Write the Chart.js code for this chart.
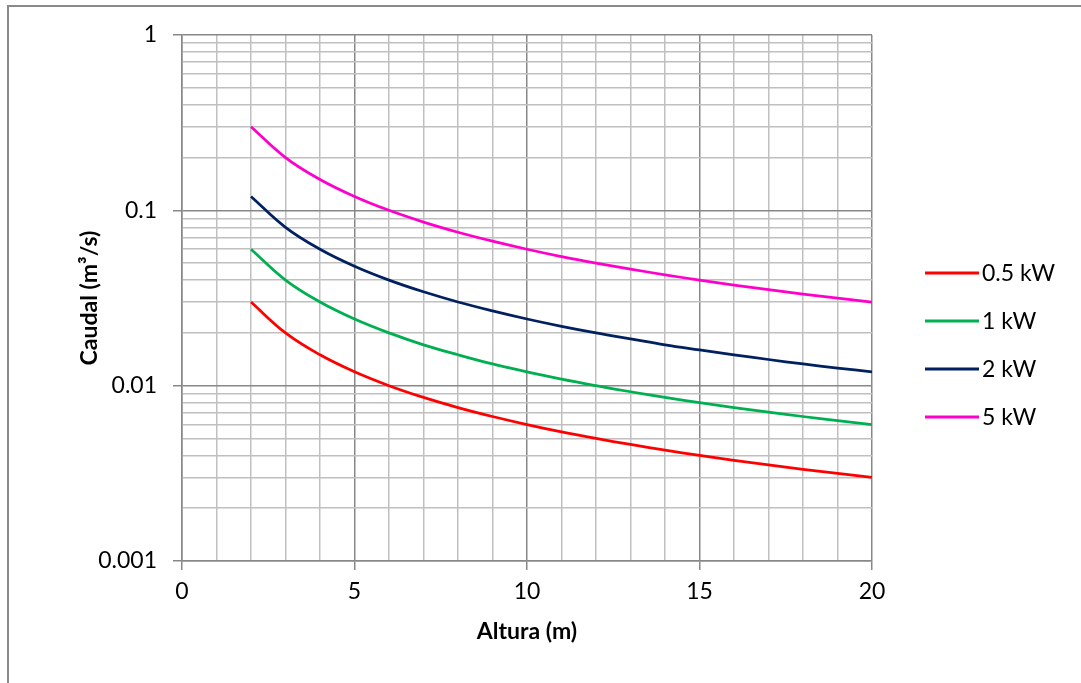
<!DOCTYPE html>
<html>
<head>
<meta charset="utf-8">
<script src="https://cdn.jsdelivr.net/npm/chart.js@4"></script>
<style>
  html, body { margin: 0; padding: 0; background: #fff; }
  canvas { display: block; }
</style>
</head>
<body>
<canvas id="flowChart" width="1081" height="683"></canvas>
<script>
/* Caudal vs altura for several power levels */

const alturas = [2, 3, 4, 5, 6, 7, 8, 9, 10, 11, 12, 13, 14, 15, 16, 17, 18, 19, 20];

const seriesLabels = ['0.5 kW', '1 kW', '2 kW', '5 kW'];
const seriesColors = ['#ff0000', '#00b050', '#002060', '#ff00cc'];

const caudal05 = [0.03, 0.02, 0.015, 0.012, 0.01, 0.00857, 0.0075, 0.00667, 0.006, 0.00545, 0.005, 0.00462, 0.00429, 0.004, 0.00375, 0.00353, 0.00333, 0.00316, 0.003];
const caudal1 = [0.06, 0.04, 0.03, 0.024, 0.02, 0.0171, 0.015, 0.0133, 0.012, 0.0109, 0.01, 0.00923, 0.00857, 0.008, 0.0075, 0.00706, 0.00667, 0.00632, 0.006];
const caudal2 = [0.12, 0.08, 0.06, 0.048, 0.04, 0.0343, 0.03, 0.0267, 0.024, 0.0218, 0.02, 0.0185, 0.0171, 0.016, 0.015, 0.0141, 0.0133, 0.0126, 0.012];
const caudal5 = [0.3, 0.2, 0.15, 0.12, 0.1, 0.0857, 0.075, 0.0667, 0.06, 0.0545, 0.05, 0.0462, 0.0429, 0.04, 0.0375, 0.0353, 0.0333, 0.0316, 0.03];

const yDecades = [0.001, 0.01, 0.1, 1];
const xLabels = [0, 5, 10, 15, 20];

const FONT = 'Lato';
const gridLight = '#c0c0c0';
const gridDark = '#888888';

function isDecade(v) {
    const l = Math.log10(v);
    return Math.abs(l - Math.round(l)) < 1e-9;
}

// minor grid positions 1..9 within each decade
const yGrid = [];
yDecades.slice(0, -1).forEach(d => {
    for (let s = 1; s < 10; s++) yGrid.push(+(d * s).toPrecision(6));
});
yGrid.push(yDecades[yDecades.length - 1]);

const allSeries = [caudal05, caudal1, caudal2, caudal5];

const datasets = allSeries.map((vals, i) => ({
    label: seriesLabels[i],
    data: alturas.map((x, j) => ({ x: x, y: vals[j] })),
    borderColor: seriesColors[i],
    backgroundColor: seriesColors[i],
    borderWidth: 2.75,
    pointRadius: 0,
    fill: false,
    tension: 0.4
}));

// white page + outer frame
const framePlugin = {
    id: 'frame',
    beforeDraw(chart) {
        const c = chart.ctx;
        c.save();
        c.fillStyle = '#fff';
        c.fillRect(0, 0, chart.width, chart.height);
        c.strokeStyle = '#8a8a8a';
        c.lineWidth = 2;
        c.strokeRect(8, 6, chart.width + 20, chart.height + 20);
        c.restore();
    }
};

// legend on the right, like the excel one
const sideLegend = {
    id: 'sideLegend',
    afterDraw(chart) {
        const c = chart.ctx;
        c.save();
        c.font = '23px ' + FONT;
        c.textBaseline = 'middle';
        c.textAlign = 'left';
        chart.data.datasets.forEach((ds, i) => {
            const y = 273 + i * 48;
            c.strokeStyle = ds.borderColor;
            c.lineWidth = 3;
            c.beginPath();
            c.moveTo(925, y);
            c.lineTo(979, y);
            c.stroke();
            c.fillStyle = '#000';
            c.fillText(ds.label, 982, y + 1);
        });
        c.restore();
    }
};

new Chart(document.getElementById('flowChart'), {
    type: 'line',
    data: { datasets: datasets },
    options: {
        responsive: false,
        animation: false,
        layout: {
            padding: { left: 0, top: 35, right: 209, bottom: 0 }
        },
        plugins: {
            legend: { display: false },
            tooltip: { enabled: false }
        },
        scales: {
            x: {
                type: 'linear',
                min: 0,
                max: 20,
                afterFit: s => { s.height = 122; },
                ticks: {
                    stepSize: 1,
                    autoSkip: false,
                    maxRotation: 0,
                    padding: 8,
                    color: '#000',
                    font: { family: FONT, size: 23 },
                    callback: v => xLabels.includes(v) ? String(v) : ''
                },
                grid: {
                    color: ctx => (ctx.tick && ctx.tick.value % 5 === 0) ? gridDark : gridLight,
                    tickColor: ctx => (ctx.tick && ctx.tick.value % 5 === 0) ? gridDark : 'rgba(0,0,0,0)',
                    tickLength: 9,
                    lineWidth: 1.5
                },
                border: { color: gridDark, width: 1.5 },
                title: {
                    display: true,
                    text: 'Altura (m)',
                    color: '#000',
                    font: { family: FONT, size: 23, weight: 'bold' },
                    padding: { top: 0, bottom: 38 }
                }
            },
            y: {
                type: 'logarithmic',
                min: 0.001,
                max: 1,
                afterFit: s => { s.width = 182; },
                afterBuildTicks: s => { s.ticks = yGrid.map(v => ({ value: v })); },
                ticks: {
                    autoSkip: false,
                    padding: 16,
                    color: '#000',
                    font: { family: FONT, size: 23 },
                    callback: v => yDecades.includes(v) ? String(v) : ''
                },
                grid: {
                    color: ctx => (ctx.tick && isDecade(ctx.tick.value)) ? gridDark : gridLight,
                    tickColor: ctx => (ctx.tick && isDecade(ctx.tick.value)) ? gridDark : 'rgba(0,0,0,0)',
                    tickLength: 9,
                    lineWidth: 1.5
                },
                border: { color: gridDark, width: 1.5 },
                title: {
                    display: true,
                    text: 'Caudal (m³/s)',
                    color: '#000',
                    font: { family: FONT, size: 23, weight: 'bold' },
                    padding: { top: 76, bottom: 0 }
                }
            }
        }
    },
    plugins: [framePlugin, sideLegend]
});
</script>
</body>
</html>
